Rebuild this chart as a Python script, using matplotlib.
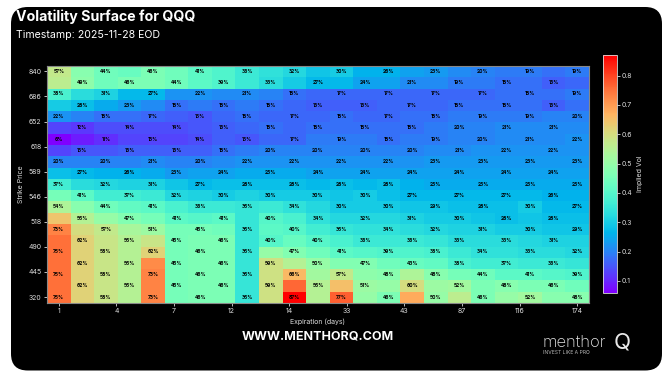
import numpy as np
import matplotlib
matplotlib.use("Agg")
import matplotlib.pyplot as plt
from matplotlib.patches import FancyBboxPatch

plt.rcParams['font.family'] = ['Inter', 'DejaVu Sans']

# strike labels shown on the y axis (10 ticks spread over 21 rows)
strike_labels = ["840", "686", "652", "618", "589", "546", "518", "490", "445", "320"]
# expiration labels shown on the x axis (10 ticks spread over 23 columns)
expiry_labels = ["1", "4", "7", "12", "14", "33", "43", "87", "116", "174"]

# implied vol in percent, rows top (high strike) to bottom, 23 expirations each
iv_pct = [
    [57, 48, 44, 43, 46, 44, 41, 39, 36, 34, 32, 29, 30, 26, 26, 24, 23, 21, 20, 19, 19, 18, 19],
    [56, 49, 44, 46, 46, 44, 41, 39, 36, 33, 30, 27, 27, 24, 24, 21, 21, 19, 19, 18, 18, 16, 17],
    [38, 33, 31, 27, 27, 22, 22, 21, 21, 20, 18, 17, 17, 17, 17, 17, 17, 17, 17, 18, 18, 18, 19],
    [30, 28, 25, 23, 21, 18, 19, 18, 19, 18, 17, 16, 16, 16, 17, 17, 17, 18, 18, 18, 18, 16, 18],
    [22, 20, 18, 18, 17, 16, 15, 17, 18, 17, 17, 17, 18, 17, 17, 18, 18, 19, 19, 19, 19, 20, 20],
    [13, 12, 14, 14, 14, 14, 15, 16, 17, 18, 17, 18, 18, 18, 18, 18, 19, 20, 20, 21, 21, 21, 21],
    [6, 9, 11, 13, 13, 13, 14, 16, 15, 17, 17, 19, 19, 19, 18, 19, 19, 20, 20, 21, 21, 21, 22],
    [13, 15, 15, 16, 16, 16, 16, 18, 19, 20, 20, 20, 20, 20, 20, 20, 21, 21, 22, 22, 22, 22, 22],
    [20, 20, 20, 20, 21, 20, 20, 21, 22, 22, 22, 22, 22, 22, 22, 22, 23, 23, 23, 23, 23, 23, 23],
    [28, 27, 26, 26, 25, 23, 24, 24, 25, 25, 25, 24, 24, 24, 24, 24, 24, 24, 24, 24, 24, 24, 24],
    [37, 33, 32, 31, 31, 29, 27, 28, 28, 28, 28, 27, 28, 27, 28, 26, 25, 25, 25, 25, 25, 25, 25],
    [45, 41, 37, 37, 36, 32, 31, 30, 31, 30, 30, 30, 29, 30, 28, 27, 27, 27, 27, 27, 27, 26, 26],
    [54, 48, 44, 42, 41, 38, 36, 36, 35, 36, 34, 32, 30, 30, 30, 29, 29, 28, 28, 28, 30, 27, 27],
    [64, 55, 50, 47, 45, 41, 40, 41, 35, 40, 38, 34, 32, 32, 32, 31, 30, 30, 29, 28, 29, 28, 28],
    [73, 60, 57, 53, 51, 45, 45, 44, 35, 41, 40, 37, 35, 34, 34, 33, 32, 31, 31, 30, 30, 29, 29],
    [75, 62, 58, 55, 58, 45, 46, 46, 35, 40, 43, 40, 38, 36, 36, 36, 35, 33, 33, 33, 32, 31, 31],
    [75, 62, 58, 55, 62, 45, 46, 46, 35, 50, 47, 44, 41, 40, 39, 39, 38, 36, 34, 34, 33, 33, 32],
    [75, 62, 58, 55, 72, 45, 46, 46, 35, 59, 55, 50, 47, 47, 44, 43, 42, 38, 37, 37, 36, 36, 35],
    [75, 62, 58, 55, 73, 45, 46, 46, 35, 59, 66, 52, 57, 49, 48, 54, 48, 45, 44, 41, 41, 40, 39],
    [75, 62, 58, 55, 73, 45, 46, 46, 35, 59, 76, 55, 65, 51, 50, 60, 51, 52, 46, 48, 46, 46, 44],
    [75, 62, 58, 55, 73, 45, 46, 46, 35, 59, 87, 55, 77, 50, 46, 68, 50, 56, 46, 50, 52, 48, 48],
]

iv = np.array(iv_pct) / 100.0
n_rows, n_cols = iv.shape

fig = plt.figure(figsize=(6.68, 3.79), dpi=100, facecolor="white")

# black rounded card behind everything
card = FancyBboxPatch((11 / 668, 1 - 370.5 / 379), (662 - 11) / 668, (370.5 - 7) / 379,
                      boxstyle="round,pad=0,rounding_size=0.025",
                      transform=fig.transFigure, facecolor="black", edgecolor="none",
                      mutation_aspect=668 / 379, zorder=-10)
fig.patches.append(card)

fig.text(16 / 668, 1 - 17 / 379, "Volatility Surface for QQQ", color="white",
         fontsize=10.2, fontweight="bold", va="center", ha="left")
fig.text(16 / 668, 1 - 35 / 379, "Timestamp: 2025-11-28 EOD", color="white",
         fontsize=7.6, va="center", ha="left")

ax = fig.add_axes([47 / 668, 1 - 302.7 / 379, (589 - 47) / 668, (302.7 - 65.7) / 379])
ax.set_facecolor("black")
im = ax.imshow(iv, cmap="rainbow", aspect="auto", interpolation="nearest",
               vmin=iv.min(), vmax=iv.max())

# label every other cell in a checkerboard
for i in range(n_rows):
    for j in range(n_cols):
        if (i + j) % 2 == 0:
            ax.text(j, i, f"{iv[i, j] * 100:.0f}%", ha="center", va="center",
                    fontsize=3.5, color="black", fontweight="bold")

ax.set_xticks(np.linspace(0, n_cols - 1, len(expiry_labels)))
ax.set_xticklabels(expiry_labels)
ax.set_yticks(np.linspace(0, n_rows - 1, len(strike_labels)))
ax.set_yticklabels(strike_labels)
ax.tick_params(colors="#dddddd", labelsize=5, length=2, width=0.6, pad=2)
ax.set_xlabel("Expiration (days)", color="#dddddd", fontsize=5, labelpad=3)
ax.set_ylabel("Strike Price", color="#dddddd", fontsize=5, labelpad=3)
for s in ax.spines.values():
    s.set_color("#888888")
    s.set_linewidth(0.8)

cax = fig.add_axes([603 / 668, 1 - 292.7 / 379, 13.5 / 668, (292.7 - 55) / 379])
cb = fig.colorbar(im, cax=cax)
cb.set_ticks([0.1, 0.2, 0.3, 0.4, 0.5, 0.6, 0.7, 0.8])
cb.ax.tick_params(colors="#dddddd", labelsize=5, length=2, width=0.6, pad=2)
cb.outline.set_edgecolor("#dddddd")
cb.outline.set_linewidth(0.6)
cb.set_label("Implied Vol", color="#dddddd", fontsize=5, labelpad=3)

fig.text(318 / 668, 1 - 336 / 379, "WWW.MENTHORQ.COM", color="white",
         fontsize=9.0, fontweight="bold", ha="center", va="center")

# logo
fig.text(543 / 668, 1 - 342 / 379, "menthor", color="#e8e8e8", fontsize=12,
         fontweight="light", ha="left", va="center")
fig.text(622 / 668, 1 - 342 / 379, "Q", color="#e8e8e8", fontsize=16,
         ha="center", va="center")
fig.text(543 / 668, 1 - 352 / 379, "INVEST LIKE A PRO", color="#bbbbbb", fontsize=3.6,
         ha="left", va="center")

fig.savefig("out.png", dpi=100, facecolor="white")
